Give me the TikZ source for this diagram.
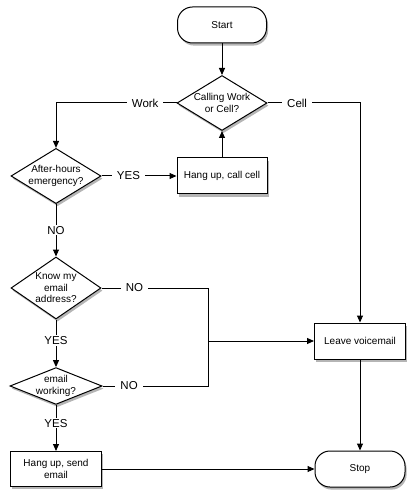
\documentclass[tikz,border=0pt]{standalone}
\usepackage{fontspec}
\setmainfont{Liberation Sans}
\usepackage{tikz}
\usetikzlibrary{arrows.meta,shapes.geometric,shadows}
\definecolor{shadowgrey}{RGB}{90,90,90}
\newcommand{\boxfont}{\fontsize{10}{11.5}\selectfont}
\newcommand{\lblfont}{\fontsize{11.5}{13}\selectfont}

\begin{document}
\begin{tikzpicture}[
  x=1pt, y=-1pt,
  line width=1pt,
  shade/.style={drop shadow={shadow xshift=1.6pt, shadow yshift=-2.6pt,
                fill=shadowgrey, opacity=0.45}},
  term/.style={rectangle, rounded corners=15pt, draw, fill=white, shade,
               minimum width=89pt, minimum height=36pt, font=\boxfont},
  proc/.style={rectangle, draw, fill=white, shade, align=center,
               minimum width=90pt, minimum height=36pt, font=\boxfont},
  dec/.style={diamond, draw, fill=white, shade, align=center, inner sep=0pt,
              shape aspect=1.6, minimum width=90pt, minimum height=55pt, font=\boxfont},
  lbl/.style={fill=white, inner xsep=5pt, inner ysep=1pt, font=\lblfont},
  arr/.style={-{Triangle[length=7pt, width=6pt]}},
]
\useasboundingbox (0,0) rectangle (416,502);

% ============================================================
% TOP: start and the first question
% ============================================================
\node[term] (start) at (222,25) {Start};
\node[dec]  (call)  at (222,103) {Calling Work\\or Cell?};
\draw[arr] (start) -- (call);

% ============================================================
% WORK branch (left column)
% ============================================================
\node[dec]  (after)    at (56,176) {After-hours\\emergency?};
\node[proc] (hangcell) at (222,176) {Hang up, call cell};
\node[dec, minimum height=62pt] (know) at (56,288) {Know my\\email\\address?};
\node[dec, shape aspect=2.5, minimum height=36pt] (works) at (56,386) {email\\working?};
\node[proc, minimum width=91pt, minimum height=35pt] (hangmail) at (56,469) {Hang up, send\\email};

\draw[arr] (call.west) -| (after.north) node[lbl, pos=0.13] {Work};
\draw[arr] (after.east) -- (hangcell.west) node[lbl, pos=0.36] {YES};
\draw[arr] (hangcell.north) -- (call.south);
\draw[arr] (after.south) -- (know.north) node[lbl, midway] {NO};
\draw[arr] (know.south) -- (works.north) node[lbl, pos=0.44] {YES};
\draw[arr] (works.south) -- (hangmail.north) node[lbl, pos=0.4] {YES};

% ============================================================
% CELL branch and the ends (right column)
% ============================================================
\node[proc, minimum width=91pt] (voice) at (360,341) {Leave voicemail};
\node[term, minimum width=90pt] (stop)  at (360,469) {Stop};
\coordinate (merge) at (208,341);

\draw[arr] (call.east) -| (voice.north) node[lbl, pos=0.16] {Cell};
\draw (know.east) -| (merge) node[lbl, pos=0.155] {NO};
\draw (works.east) -| (merge) node[lbl, pos=0.126] {NO};
\draw[arr] (merge) -- (voice.west);
\draw[arr] (voice.south) -- (stop.north);
\draw[arr] (hangmail.east) -- (stop.west);

\end{tikzpicture}
\end{document}
